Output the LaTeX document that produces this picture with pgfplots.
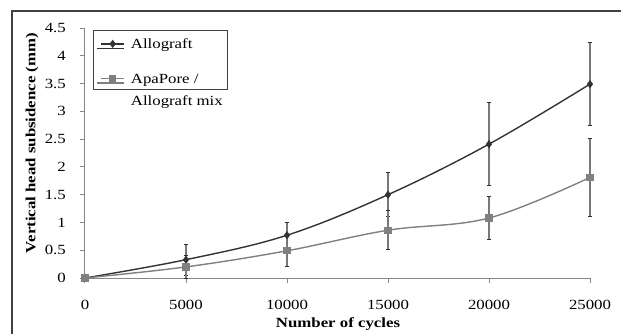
\documentclass[border=0pt]{standalone}
\usepackage{fontspec}
\setmainfont{Liberation Serif}
\usepackage{graphicx}
\usepackage{pgfplots}
\usepackage{pgfplotstable}
\pgfplotsset{compat=1.18}
\definecolor{darkline}{RGB}{51,51,51}
\definecolor{lightline}{RGB}{128,128,128}
\definecolor{axisgray}{RGB}{134,134,134}
\definecolor{barcol}{RGB}{120,120,120}
\definecolor{capcol}{RGB}{45,45,45}
\definecolor{framecol}{RGB}{64,64,64}
\newcommand\sx[1]{\scalebox{1.2}[1]{#1}}

\pgfplotstableread{
x y e
0 0 0
5000 0.33 0.28
10000 0.77 0.23
15000 1.50 0.40
20000 2.41 0.75
25000 3.49 0.75
}\allo
\pgfplotstableread{
x y e
0 0 0
5000 0.20 0.21
10000 0.49 0.29
15000 0.86 0.35
20000 1.08 0.38
25000 1.81 0.70
}\apa

\begin{document}
\begin{tikzpicture}
\useasboundingbox (0pt,0pt) rectangle (621pt,333pt);
\draw[framecol, line width=1.3pt] (12pt,-5pt) -- (12pt,322pt) -- (630pt,322pt);
\begin{axis}[
  at={(85pt,55pt)}, anchor=south west, scale only axis,
  width=505pt, height=250pt,
  xmin=0, xmax=25000, ymin=0, ymax=4.5,
  clip=false,
  scaled x ticks=false, scaled y ticks=false,
  axis lines*=left,
  axis line style={axisgray, line width=1pt},
  major tick style={axisgray, line width=1pt},
  tick align=outside, major tick length=5pt,
  xtick={0,5000,10000,15000,20000,25000},
  xticklabels={\sx{0},\sx{5000},\sx{10000},\sx{15000},\sx{20000},\sx{25000}},
  ytick={0,0.5,1,1.5,2,2.5,3,3.5,4,4.5},
  yticklabels={\sx{0},\sx{0.5},\sx{1},\sx{1.5},\sx{2},\sx{2.5},\sx{3},\sx{3.5},\sx{4},\sx{4.5}},
  /pgf/number format/assume math mode=true,
  tick label style={font=\fontsize{14}{16}\selectfont, text=black},
  yticklabel style={anchor=east, inner sep=0pt, xshift=-14pt},
  xticklabel style={anchor=north, inner sep=0pt, yshift=-17pt},
  xlabel={\sx{\bfseries Number of cycles}},
  ylabel={\sx{\bfseries Vertical head subsidence (mm)}},
  label style={font=\fontsize{14}{16}\selectfont},
  xlabel style={at={(axis description cs:0.501,0)}, anchor=base, yshift=-49pt},
  ylabel style={at={(axis description cs:-0.105,0.54)}, anchor=center},
  legend style={at={(rel axis cs:0.016,0.992)}, anchor=north west,
    draw=framecol, line width=0.8pt, fill=white,
    font=\fontsize{14}{22}\selectfont,
    inner xsep=3pt, inner ysep=2.5pt, row sep=20pt, column sep=4pt,
    nodes={inner sep=2pt},
    cells={anchor=base west}},
  legend image code/.code={
    \path (0pt,0pt) -- (27pt,0pt);
    \draw[mark repeat=2,mark phase=2,#1] plot coordinates {(4pt,4.5pt)(15.5pt,4.5pt)(27pt,4.5pt)};
  },
  error bars/y dir=both, error bars/y explicit,
  error bars/error bar style={barcol, line width=1.6pt, solid},
  error bars/error mark=-,
  error bars/error mark options={capcol, line width=1pt, mark size=2.4pt, rotate=90},
]
\addplot[darkline, line width=1.4pt, smooth, tension=0.6, mark=diamond*, mark size=3pt,
  mark options={fill=darkline, draw=darkline, solid}]
  table[x=x, y=y, y error=e] {\allo};
\addlegendentry{\sx{\vphantom{\rule{0pt}{13.5pt}}Allograft}}
\addplot[lightline, line width=1.4pt, smooth, tension=0.6, mark=square*, mark size=3pt,
  mark options={fill=lightline, draw=lightline, solid}]
  table[x=x, y=y, y error=e] {\apa};
\addlegendentry{\sx{\vtop{\baselineskip=22pt\hbox{ApaPore /}\hbox{Allograft mix}\kern-6pt}}}
\end{axis}
\end{tikzpicture}
\end{document}
